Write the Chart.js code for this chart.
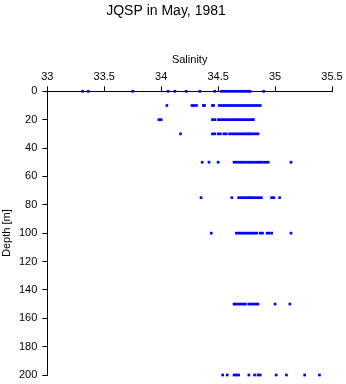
<!DOCTYPE html>
<html>
<head>
<meta charset="utf-8">
<script src="https://cdn.jsdelivr.net/npm/chart.js@4/dist/chart.umd.min.js"></script>
<style>
  html, body { margin: 0; padding: 0; background: #fff; }
  #wrap { width: 346px; height: 384px; }
</style>
</head>
<body>
<div id="wrap"><canvas id="chart"></canvas></div>
<script>
// sampling depths (m) and salinity readings at each depth
const DEPTHS = [0, 10, 20, 30, 50, 75, 100, 150, 200];

const sal0 = [33.31, 33.36, 33.75, 34.06, 34.12, 34.22, 34.34, 34.47, 34.53, 34.55, 34.57,
  34.59, 34.61, 34.63, 34.65, 34.67, 34.69, 34.71, 34.73, 34.75, 34.77, 34.78, 34.90];
const sal10 = [34.05, 34.27, 34.29, 34.31, 34.37, 34.38, 34.45, 34.46, 34.51, 34.53, 34.55,
  34.57, 34.59, 34.61, 34.63, 34.65, 34.67, 34.69, 34.71, 34.73, 34.75, 34.77, 34.79, 34.81,
  34.83, 34.85, 34.87];
const sal20 = [33.98, 34.00, 34.45, 34.47, 34.50, 34.52, 34.54, 34.56, 34.58, 34.60, 34.62,
  34.64, 34.66, 34.68, 34.70, 34.72, 34.74, 34.76, 34.78, 34.80, 34.81];
const sal30 = [34.17, 34.45, 34.47, 34.50, 34.52, 34.55, 34.57, 34.60, 34.62, 34.64, 34.66,
  34.68, 34.70, 34.72, 34.74, 34.76, 34.77, 34.79, 34.81, 34.83, 34.85];
const sal50 = [34.36, 34.42, 34.50, 34.64, 34.66, 34.68, 34.70, 34.72, 34.74, 34.76, 34.78,
  34.80, 34.82, 34.84, 34.86, 34.88, 34.90, 34.92, 34.94, 35.14];
const sal75 = [34.35, 34.62, 34.68, 34.70, 34.72, 34.74, 34.76, 34.78, 34.80, 34.82, 34.84,
  34.86, 34.88, 34.97, 34.99, 35.04];
const sal100 = [34.44, 34.66, 34.68, 34.70, 34.72, 34.74, 34.76, 34.78, 34.80, 34.82, 34.84,
  34.87, 34.89, 34.93, 34.95, 34.97, 35.14];
const sal150 = [34.64, 34.66, 34.68, 34.70, 34.72, 34.74, 34.77, 34.79, 34.81, 34.83, 34.85,
  35.00, 35.13];
const sal200 = [34.54, 34.58, 34.64, 34.66, 34.68, 34.77, 34.82, 34.85, 34.87, 35.01, 35.10,
  35.26, 35.39];

const SALINITY = [sal0, sal10, sal20, sal30, sal50, sal75, sal100, sal150, sal200];

const FONT = 'Liberation Sans, Arial, Helvetica, sans-serif';

function buildPoints() {
  const pts = [];
  DEPTHS.forEach((d, i) => {
    SALINITY[i].forEach(s => pts.push({ x: s, y: d }));
  });
  return pts;
}

new Chart(document.getElementById('chart'), {
  type: 'scatter',
  data: {
    datasets: [{
      data: buildPoints(),
      backgroundColor: '#0000ff',
      borderWidth: 0,
      pointStyle: 'rect',
      pointRadius: 1.9,
      clip: false
    }]
  },
  options: {
    responsive: true,
    maintainAspectRatio: false,
    animation: false,
    layout: { padding: { left: 0, right: 14, top: 0, bottom: 9 } },
    plugins: {
      legend: { display: false },
      tooltip: { enabled: false },
      title: {
        display: true,
        text: 'JQSP in May, 1981',
        color: '#000',
        font: { family: FONT, size: 14, weight: 'normal' },
        padding: { top: 3, bottom: 0 }
      }
    },
    scales: {
      x: {
        type: 'linear',
        position: 'top',
        min: 33,
        max: 35.5,
        afterFit: s => {
          s.height = 71.5;
          s.paddingLeft = 0;
          s.paddingRight = 0;
        },
        ticks: {
          stepSize: 0.5,
          color: '#000',
          padding: 3,
          font: { family: FONT, size: 11 },
          callback: v => String(v)
        },
        grid: { drawOnChartArea: false, drawTicks: true, tickLength: 5, color: '#000' },
        border: { display: true, color: '#000' },
        title: {
          display: true,
          text: 'Salinity',
          color: '#000',
          font: { family: FONT, size: 11 },
          padding: { top: 34, bottom: 0 }
        }
      },
      y: {
        type: 'linear',
        reverse: true,
        min: 0,
        max: 200,
        afterFit: s => {
          s.width = 47.3;
          s.paddingTop = 0;
          s.paddingBottom = 0;
        },
        ticks: {
          stepSize: 20,
          color: '#000',
          padding: 5,
          font: { family: FONT, size: 11 }
        },
        grid: { drawOnChartArea: false, drawTicks: true, tickLength: 5, color: '#000' },
        border: { display: true, color: '#000' },
        title: {
          display: true,
          text: 'Depth [m]',
          color: '#000',
          font: { family: FONT, size: 11 },
          padding: { top: 0, bottom: 0 }
        }
      }
    }
  }
});
</script>
</body>
</html>
